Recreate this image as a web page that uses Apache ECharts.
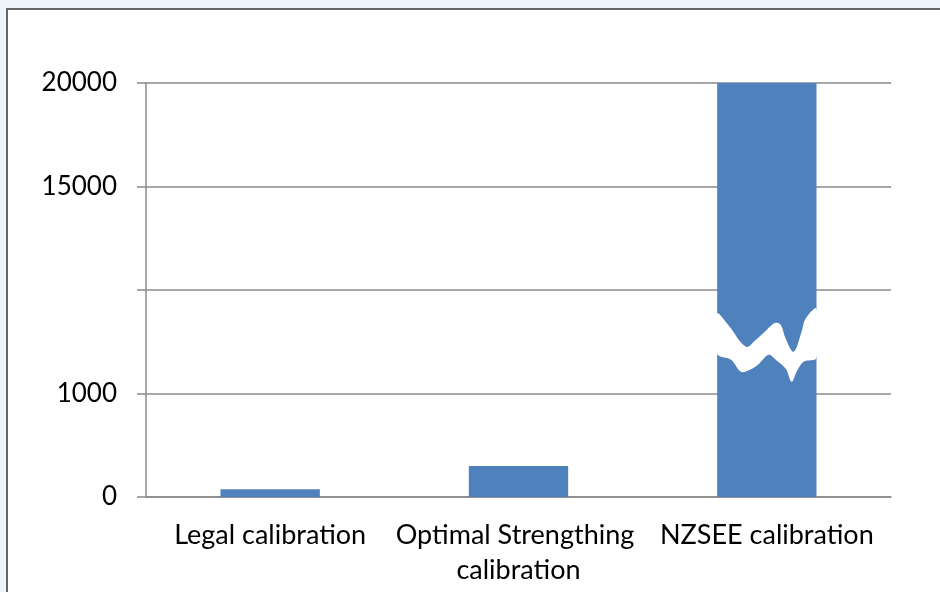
<!DOCTYPE html>
<html>
<head>
<meta charset="utf-8">
<script src="https://cdn.jsdelivr.net/npm/echarts@6/dist/echarts.min.js"></script>
<style>
  html, body { margin: 0; padding: 0; background: #eff4f9; }
  #chart { width: 940px; height: 592px; }
</style>
</head>
<body>
<div id="chart"></div>
<script>
// Calibration strategies and their values
const categories = ['Legal calibration', 'Optimal Strengthing calibration', 'NZSEE calibration'];
const values = [75, 300, 20000];

// Broken value axis: evenly spaced ticks, one of them left unlabelled
const tickValues = [0, 1000, null, 15000, 20000];
const tickLabels = ['0', '1000', '', '15000', '20000'];

// Piecewise mapping from a value to its position on the broken axis
const anchors = tickValues.map((v, i) => [v, i]).filter(a => a[0] !== null);
function toAxis(v) {
  for (let k = 1; k < anchors.length; k++) {
    const [v0, p0] = anchors[k - 1], [v1, p1] = anchors[k];
    if (v <= v1) return p0 + (v - v0) / (v1 - v0) * (p1 - p0);
  }
  return anchors[anchors.length - 1][1];
}

// Wavy cut across the tallest bar (x as fraction of bar width, y in px from centre)
const cutTop = [[0,-28],[0.11,-17],[0.29,5],[0.39,-2],[0.48,-10],[0.53,-15],[0.59,-19],[0.64,-17],[0.69,-3],[0.77,10],[0.85,-10],[0.89,-23],[1,-33]];
const cutBottom = [[1,16],[0.87,20],[0.80,30],[0.75,40],[0.69,27],[0.59,18],[0.52,13],[0.41,23],[0.33,28],[0.24,30],[0.14,18],[0,12]];

const gridColor = '#8a8a8a';
const chart = echarts.init(document.getElementById('chart'));
chart.setOption({
  animation: false,
  backgroundColor: 'transparent',
  graphic: [
    { type: 'rect', z: -10, shape: { x: 7, y: 9, width: 940, height: 600 },
      style: { fill: '#ffffff', stroke: '#666666', lineWidth: 2 } }
  ],
  grid: { left: 146, right: 49, top: 83, bottom: 95 },
  xAxis: {
    type: 'category',
    data: categories,
    axisLine: { lineStyle: { color: gridColor, width: 1.5 } },
    axisTick: { length: 9, lineStyle: { color: gridColor, width: 1.5 } },
    axisLabel: {
      interval: 0, color: '#000', fontFamily: 'Lato', fontSize: 27,
      lineHeight: 35, margin: 21, width: 248, overflow: 'break'
    }
  },
  yAxis: {
    type: 'value', min: 0, max: tickLabels.length - 1, interval: 1,
    axisLine: { show: true, lineStyle: { color: gridColor, width: 1.5 } },
    axisTick: { show: true, length: 9, lineStyle: { color: gridColor, width: 1.5 } },
    splitLine: { lineStyle: { color: gridColor, width: 1.5 } },
    axisLabel: {
      color: '#000', fontFamily: 'Lato', fontSize: 26, margin: 29,
      formatter: (v) => tickLabels[Math.round(v)]
    }
  },
  series: [
    {
      type: 'bar',
      data: values.map(toAxis),
      barWidth: '40%',
      itemStyle: { color: '#4f81bd' }
    },
    {
      type: 'custom',
      z: 5,
      data: [[categories.length - 1, 1.5]],
      renderItem: (params, api) => {
        const c = api.coord([api.value(0), api.value(1)]);
        const w = api.size([1, 0])[0] * 0.4;
        const x0 = c[0] - w / 2;
        const pts = cutTop.concat(cutBottom).map(p => [x0 + p[0] * w, c[1] + p[1]]);
        return {
          type: 'polygon',
          shape: { points: pts, smooth: 0.35 },
          style: { fill: '#ffffff' }
        };
      }
    }
  ]
});
</script>
</body>
</html>
